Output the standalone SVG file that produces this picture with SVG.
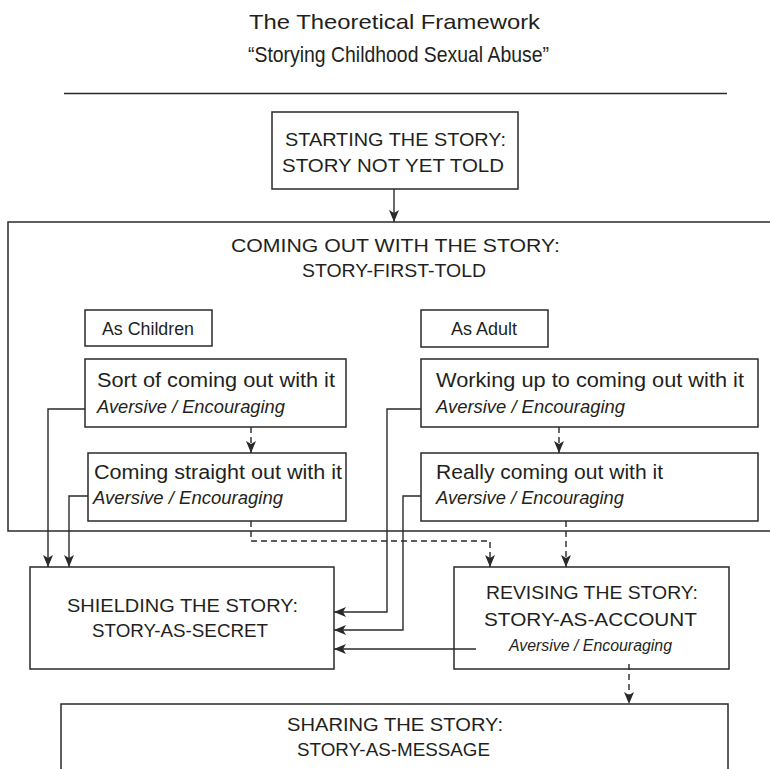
<svg xmlns="http://www.w3.org/2000/svg" width="770" height="769" viewBox="0 0 770 769">
<defs>
<style>
.bx{fill:none;stroke:#2a2a2a;stroke-width:1.5}
.ln{fill:none;stroke:#2a2a2a;stroke-width:1.4}
.ds{fill:none;stroke:#2a2a2a;stroke-width:1.4;stroke-dasharray:6 4}
.ar{marker-end:url(#ah)}
text{font-family:"Liberation Sans",Arial,sans-serif;fill:#231f20}
.t{font-size:21px}
.t2{font-size:22px}
.h{font-size:19px}
.b{font-size:20.5px}
.i{font-size:18px;font-style:italic}
.s{font-size:17.5px}
.si{font-size:16px;font-style:italic}
</style>
<marker id="ah" viewBox="0 0 12 10" refX="12" refY="5" markerWidth="12" markerHeight="10" markerUnits="userSpaceOnUse" orient="auto">
<path d="M0,0 L12,5 L0,10 L3,5 z" fill="#2a2a2a"/>
</marker>
</defs>
<rect width="770" height="769" fill="#ffffff"/>
<g id="title">
<text class="t" x="249" y="28.5" textLength="291" lengthAdjust="spacingAndGlyphs">The Theoretical Framework</text>
<text class="t2" x="248" y="62" textLength="301" lengthAdjust="spacingAndGlyphs">“Storying Childhood Sexual Abuse”</text>
<line class="ln" x1="64" y1="93.5" x2="727" y2="93.5"/>
</g>
<g id="starting">
<rect class="bx" x="272" y="112" width="246" height="77"/>
<text class="h" x="285" y="146" textLength="221" lengthAdjust="spacingAndGlyphs">STARTING THE STORY:</text>
<text class="h" x="282" y="172" textLength="222" lengthAdjust="spacingAndGlyphs">STORY NOT YET TOLD</text>
</g>
<g id="coming-out">
<rect class="bx" x="8" y="222" width="800" height="309"/>
<text class="h" x="231" y="252" textLength="329" lengthAdjust="spacingAndGlyphs">COMING OUT WITH THE STORY:</text>
<text class="h" x="302" y="277" textLength="184" lengthAdjust="spacingAndGlyphs">STORY-FIRST-TOLD</text>
</g>
<g id="as-children">
<rect class="bx" x="85" y="310" width="127" height="36"/>
<text class="s" x="102" y="335" textLength="92" lengthAdjust="spacingAndGlyphs">As Children</text>
</g>
<g id="as-adult">
<rect class="bx" x="421" y="310" width="127" height="37"/>
<text class="s" x="451" y="335" textLength="66" lengthAdjust="spacingAndGlyphs">As Adult</text>
</g>
<g id="sort-of">
<rect class="bx" x="85" y="359" width="261" height="68"/>
<text class="b" x="97" y="387" textLength="238" lengthAdjust="spacingAndGlyphs">Sort of coming out with it</text>
<text class="i" x="97" y="413" textLength="188" lengthAdjust="spacingAndGlyphs">Aversive / Encouraging</text>
</g>
<g id="straight">
<rect class="bx" x="88" y="453" width="258" height="68"/>
<text class="b" x="94" y="479" textLength="248" lengthAdjust="spacingAndGlyphs">Coming straight out with it</text>
<text class="i" x="93" y="504" textLength="190" lengthAdjust="spacingAndGlyphs">Aversive / Encouraging</text>
</g>
<g id="working">
<rect class="bx" x="421" y="359" width="337" height="68"/>
<text class="b" x="436" y="387" textLength="308" lengthAdjust="spacingAndGlyphs">Working up to coming out with it</text>
<text class="i" x="436" y="413" textLength="189" lengthAdjust="spacingAndGlyphs">Aversive / Encouraging</text>
</g>
<g id="really">
<rect class="bx" x="421" y="453" width="337" height="68"/>
<text class="b" x="436" y="479" textLength="227" lengthAdjust="spacingAndGlyphs">Really coming out with it</text>
<text class="i" x="436" y="504" textLength="188" lengthAdjust="spacingAndGlyphs">Aversive / Encouraging</text>
</g>
<g id="shielding">
<rect class="bx" x="30" y="567" width="304" height="102"/>
<text class="h" x="67" y="612" textLength="231" lengthAdjust="spacingAndGlyphs">SHIELDING THE STORY:</text>
<text class="h" x="92" y="637" textLength="176" lengthAdjust="spacingAndGlyphs">STORY-AS-SECRET</text>
</g>
<g id="revising">
<rect class="bx" x="454" y="567" width="275" height="102"/>
<text class="h" x="486" y="599" textLength="212" lengthAdjust="spacingAndGlyphs">REVISING THE STORY:</text>
<text class="h" x="484" y="626" textLength="213" lengthAdjust="spacingAndGlyphs">STORY-AS-ACCOUNT</text>
<text class="si" x="509" y="651" textLength="163" lengthAdjust="spacingAndGlyphs">Aversive / Encouraging</text>
</g>
<g id="sharing">
<rect class="bx" x="61" y="704" width="667" height="90"/>
<text class="h" x="287" y="731" textLength="216" lengthAdjust="spacingAndGlyphs">SHARING THE STORY:</text>
<text class="h" x="297" y="756" textLength="193" lengthAdjust="spacingAndGlyphs">STORY-AS-MESSAGE</text>
</g>
<g id="connectors">
<path class="ln ar" d="M394,189 V222"/>
<path class="ds ar" d="M251,427 V453"/>
<path class="ds ar" d="M559,427 V453"/>
<path class="ln ar" d="M85,409 H48 V567"/>
<path class="ln ar" d="M88,496 H69 V567"/>
<path class="ln ar" d="M421,409 H387 V612 H334"/>
<path class="ln ar" d="M421,496 H403 V630 H334"/>
<path class="ln ar" d="M476,649 H334"/>
<path class="ds ar" d="M251,521 V541 H490 V567"/>
<path class="ds ar" d="M566,521 V567"/>
<path class="ds ar" d="M629,664 V704"/>
</g>
</svg>
